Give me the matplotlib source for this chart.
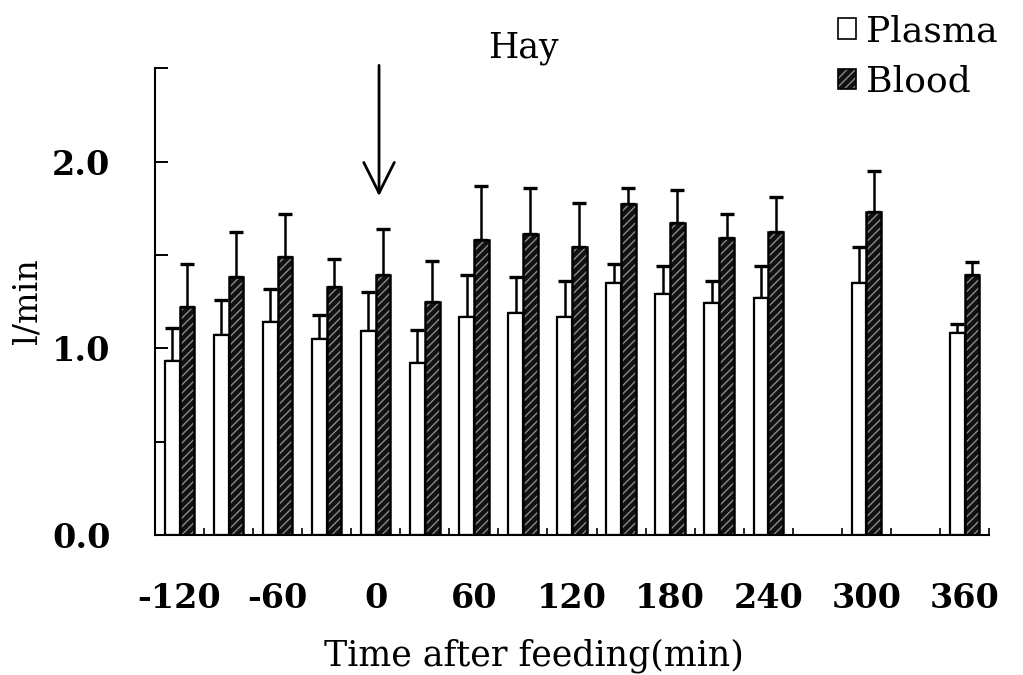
import matplotlib
matplotlib.use("Agg")
import matplotlib.pyplot as plt
import numpy as np
from matplotlib.patches import Patch
from matplotlib.legend_handler import HandlerTuple

# data (l/min, mean and upper SD)
times = [-120, -90, -60, -30, 0, 30, 60, 90, 120, 150, 180, 210, 240, 300, 360]
plasma = [0.93, 1.07, 1.14, 1.05, 1.09, 0.92, 1.17, 1.19, 1.17, 1.35, 1.29, 1.24, 1.27, 1.35, 1.08]
plasma_err = [0.18, 0.19, 0.18, 0.13, 0.21, 0.18, 0.22, 0.19, 0.19, 0.10, 0.15, 0.12, 0.17, 0.19, 0.05]
blood = [1.22, 1.38, 1.49, 1.33, 1.39, 1.25, 1.58, 1.61, 1.54, 1.77, 1.67, 1.59, 1.62, 1.73, 1.39]
blood_err = [0.23, 0.24, 0.23, 0.15, 0.25, 0.22, 0.29, 0.25, 0.24, 0.09, 0.18, 0.13, 0.19, 0.22, 0.07]
xticks = [-120, -60, 0, 60, 120, 180, 240, 300, 360]

serif = "DejaVu Serif"
plt.rcParams['font.family'] = serif
plt.rcParams['hatch.linewidth'] = 1.0

fig = plt.figure(figsize=(10.23, 6.75), dpi=100)
ax = fig.add_axes([0.1515, 0.2074, 0.8153, 0.6916])

t = np.array(times)
w = 9.0
hatch_col = '#8a8a8a'
# plasma: open bars left of the time point
ax.bar(t - w / 2, plasma, width=w, facecolor='white', edgecolor='black', linewidth=1.6, zorder=2)
ax.errorbar(t - w / 2, plasma, yerr=[np.zeros(len(t)), plasma_err], fmt='none',
            ecolor='black', elinewidth=1.8, capsize=5, capthick=2.4, zorder=1)
# blood: dark hatched bars right of the time point
ax.bar(t + w / 2, blood, width=w, facecolor='#111111', edgecolor=hatch_col, hatch='////',
       linewidth=0, zorder=2)
ax.bar(t + w / 2, blood, width=w, fill=False, edgecolor='black', linewidth=1.8, zorder=3)
ax.errorbar(t + w / 2, blood, yerr=[np.zeros(len(t)), blood_err], fmt='none',
            ecolor='black', elinewidth=1.8, capsize=5, capthick=2.4, zorder=1)

ax.set_xlim(-135, 375)
ax.set_ylim(0, 2.5)
ax.spines['top'].set_visible(False)
ax.spines['right'].set_visible(False)
for s in ('left', 'bottom'):
    ax.spines[s].set_linewidth(1.5)

ax.set_xticks(xticks)
ax.set_xticklabels([str(v) for v in xticks], fontsize=24, fontweight='bold')
ax.set_xticks(np.arange(-135, 376, 30), minor=True)
ax.tick_params(axis='x', which='major', length=0, pad=34)
ax.tick_params(axis='x', which='minor', direction='in', length=5, width=1.2)

ax.set_yticks([0, 1, 2])
ax.set_yticklabels(['0.0', '1.0', '2.0'], fontsize=24, fontweight='bold')
ax.set_yticks([0.5, 1.5, 2.5], minor=True)
ax.tick_params(axis='y', which='both', direction='in', length=9, width=1.4)
ax.tick_params(axis='y', which='major', pad=32)

ax.set_xlabel('Time after feeding(min)', fontsize=25)
ax.xaxis.set_label_coords(0.454, -0.222)
ax.set_ylabel('l/min', fontsize=24)
ax.yaxis.set_label_coords(-0.134, 0.5)

ax.text(90, 2.61, 'Hay', ha='center', va='center', fontsize=25, clip_on=False)
ax.annotate('', xy=(2, 1.80), xytext=(2, 2.53), annotation_clip=False,
            arrowprops=dict(arrowstyle='->', lw=2, mutation_scale=55, color='black'))

h_plasma = Patch(facecolor='white', edgecolor='black', linewidth=1.2)
h_blood = (Patch(facecolor='#111111', edgecolor=hatch_col, hatch='////', linewidth=0),
           Patch(fill=False, edgecolor='black', linewidth=1.2))
fig.legend([h_plasma, h_blood], ['Plasma', 'Blood'], loc='upper right',
           bbox_to_anchor=(1.0, 1.016), frameon=False, fontsize=26,
           handlelength=0.5, handleheight=0.5, handletextpad=0.28, labelspacing=0.45,
           borderaxespad=0.3, handler_map={tuple: HandlerTuple(ndivide=1, pad=0)})

fig.savefig('out.png', dpi=100)
